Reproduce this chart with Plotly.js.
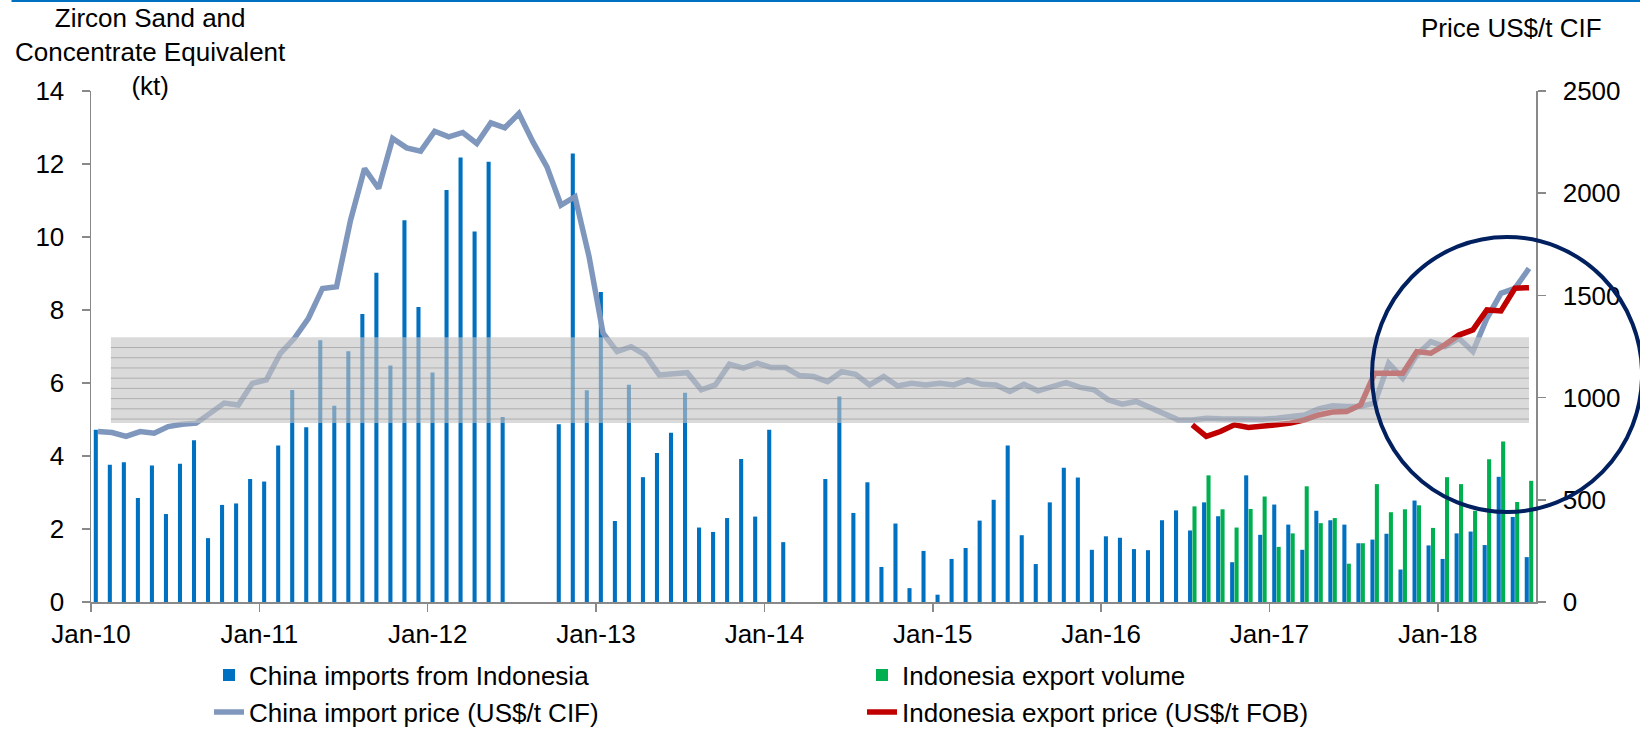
<!DOCTYPE html>
<html>
<head>
<meta charset="utf-8">
<script src="https://cdn.plot.ly/plotly-3.0.1.min.js"></script>
<style>
html,body{margin:0;padding:0;background:#fff;}
#chart{width:1640px;height:730px;}
</style>
</head>
<body>
<div id="chart"></div>
<script>
// ---- categories: monthly, Jan-10 .. Jul-18 ----
const monthNames = ['Jan','Feb','Mar','Apr','May','Jun','Jul','Aug','Sep','Oct','Nov','Dec'];
const years = ['10','11','12','13','14','15','16','17','18'];
const months = [];
years.forEach(function(y){ monthNames.forEach(function(m){ months.push(m + '-' + y); }); });
months.length = 103; // through Jul-18

// ---- tick labels ----
const yearTickLabels = ['Jan-10','Jan-11','Jan-12','Jan-13','Jan-14','Jan-15','Jan-16','Jan-17','Jan-18'];

// ---- series (kt) ----
const chinaImports = [
  4.72,3.76,3.83,2.85,3.74,2.41,3.79,4.43,1.75,2.66,2.70,3.37,
  3.30,4.29,5.81,4.79,7.17,5.38,6.87,7.89,9.02,6.48,10.46,8.08,
  6.29,11.29,12.18,10.15,12.06,5.07,null,null,null,4.87,12.29,5.80,
  8.49,2.22,5.95,3.42,4.08,4.64,5.73,2.04,1.92,2.30,3.92,2.34,
  4.72,1.64,null,null,3.37,5.63,2.44,3.28,0.96,2.15,0.38,1.40,
  0.20,1.18,1.48,2.23,2.80,4.29,1.83,1.04,2.73,3.68,3.41,1.43,
  1.80,1.76,1.45,1.42,2.24,2.51,1.96,2.73,2.35,1.09,3.47,1.84,
  2.67,2.12,1.43,2.50,2.24,2.12,1.61,1.71,1.87,0.89,2.78,1.55,
  1.18,1.88,1.93,1.56,3.43,2.33,1.23
];
const indonesiaExportVolume = [
  null,null,null,null,null,null,null,null,null,null,null,null,
  null,null,null,null,null,null,null,null,null,null,null,null,
  null,null,null,null,null,null,null,null,null,null,null,null,
  null,null,null,null,null,null,null,null,null,null,null,null,
  null,null,null,null,null,null,null,null,null,null,null,null,
  null,null,null,null,null,null,null,null,null,null,null,null,
  null,null,null,null,null,null,2.62,3.47,2.54,2.04,2.55,2.89,
  1.51,1.88,3.17,2.16,2.30,1.05,1.61,3.23,2.46,2.54,2.65,2.03,
  3.42,3.23,2.50,3.91,4.40,2.74,3.32
];
// ---- series (US$/t) ----
const chinaImportPrice = [
  834,829,810,834,826,858,870,875,924,973,964,1070,
  1087,1217,1290,1388,1534,1542,1868,2121,2023,2268,2222,2206,
  2303,2276,2297,2243,2344,2320,2390,2251,2129,1942,1983,1690,
  1315,1225,1249,1209,1111,1119,1122,1038,1062,1163,1144,1168,
  1147,1147,1108,1103,1078,1127,1114,1062,1103,1057,1070,1062,
  1070,1062,1087,1065,1062,1030,1065,1033,1054,1073,1050,1038,
  989,968,981,951,924,891,891,899,896,894,891,894,
  899,907,915,945,960,956,958,973,1168,1095,1209,1274,
  1249,1290,1225,1388,1510,1535,1632
];
const indonesiaExportPrice = [
  null,null,null,null,null,null,null,null,null,null,null,null,
  null,null,null,null,null,null,null,null,null,null,null,null,
  null,null,null,null,null,null,null,null,null,null,null,null,
  null,null,null,null,null,null,null,null,null,null,null,null,
  null,null,null,null,null,null,null,null,null,null,null,null,
  null,null,null,null,null,null,null,null,null,null,null,null,
  null,null,null,null,null,null,867,810,834,867,854,858,
  867,875,891,915,929,932,964,1119,1119,1119,1225,1217,
  1258,1306,1331,1429,1424,1535,1538
];

// month slots on a linear axis: slot i is centred at i, Jan ticks sit on the slot boundary
const xIdx = months.map(function(m, i){ return i; });
const tickPos = yearTickLabels.map(function(t){ return months.indexOf(t) - 0.5; });

const FONT = 'Arial, "Liberation Sans", sans-serif';
const AX = '#898989';

const traces = [
  {type:'bar', name:'China imports from Indonesia', x:xIdx, y:chinaImports, text:months, textposition:'none',
   marker:{color:'#0070C0'}, yaxis:'y', hoverinfo:'text+y'},
  {type:'bar', name:'Indonesia export volume', x:xIdx, y:indonesiaExportVolume, text:months, textposition:'none',
   marker:{color:'#00B050'}, yaxis:'y', hoverinfo:'text+y'},
  {type:'scatter', mode:'lines', name:'China import price (US$/t CIF)', x:xIdx, y:chinaImportPrice,
   line:{color:'#7F97BD', width:5.5}, yaxis:'y2'},
  {type:'scatter', mode:'lines', name:'Indonesia export price (US$/t FOB)', x:xIdx, y:indonesiaExportPrice,
   line:{color:'#C00000', width:5.5}, yaxis:'y2', connectgaps:false}
];

// decorative band (price range) with horizontal hatch lines
const shapes = [
  {type:'rect', xref:'x', yref:'y2', x0:0.92, x1:102.0, y0:876, y1:1295,
   fillcolor:'rgba(196,196,196,0.62)', line:{width:0}, layer:'above'}
];
for (let k = 0; k < 8; k++) {
  const yy = 895 + k * 50;
  shapes.push({type:'line', xref:'x', yref:'y2', x0:0.92, x1:102.0, y0:yy, y1:yy,
    line:{color:'rgba(140,140,140,0.55)', width:1}, layer:'above'});
}
// highlight circle
shapes.push({type:'circle', xref:'paper', yref:'paper',
  x0:0.8865, x1:1.0734, y0:0.176, y1:0.7143,
  line:{color:'#002060', width:4}, layer:'above'});
// top rule
shapes.push({type:'line', xref:'paper', yref:'paper', x0:-0.055, x1:1.08, y0:1.176, y1:1.176,
  line:{color:'#0070C0', width:2}});

const layout = {
  width:1640, height:730,
  margin:{l:91, r:104, t:91, b:128, pad:0, autoexpand:false},
  paper_bgcolor:'#fff', plot_bgcolor:'rgba(0,0,0,0)',
  font:{family:FONT, size:26, color:'#000'},
  barmode:'group', bargap:0.37, bargroupgap:0.08,
  showlegend:true,
  legend:{orientation:'h', x:(209-91)/1445, xanchor:'left', y:-0.0973, yanchor:'top',
          entrywidth:608, entrywidthmode:'pixels', font:{family:FONT, size:26, color:'#000'},
          bgcolor:'rgba(0,0,0,0)', traceorder:'normal'},
  xaxis:{type:'linear', range:[-0.5,102.5], tickmode:'array', tickvals:tickPos, ticktext:yearTickLabels,
         showline:true, linecolor:AX, linewidth:1.5, ticks:'outside', ticklen:8, tickcolor:AX, tickwidth:1.5,
         showgrid:false, zeroline:false, tickfont:{family:FONT,size:26,color:'#000'}, fixedrange:true},
  yaxis:{range:[0,14], dtick:2, tick0:0, showline:true, linecolor:AX, linewidth:1.5, ticks:'outside', ticklen:8,
         tickcolor:AX, tickwidth:1.5, showgrid:false, zeroline:false, ticklabelstandoff:12,
         tickfont:{family:FONT,size:26,color:'#000'}},
  yaxis2:{range:[0,2500], dtick:500, tick0:0, overlaying:'y', side:'right', showline:true, linecolor:AX, linewidth:1.5,
          ticks:'outside', ticklen:8, tickcolor:AX, tickwidth:1.5, showgrid:false, zeroline:false, ticklabelstandoff:12,
          tickfont:{family:FONT,size:26,color:'#000'}},
  shapes:shapes,
  annotations:[
    {xref:'paper', yref:'paper', x:(150-91)/1445, y:(602-52)/511, xanchor:'center', yanchor:'middle',
     text:'Zircon Sand and<br>Concentrate Equivalent<br>(kt)', showarrow:false, align:'center',
     font:{family:FONT,size:26,color:'#000'}},
    {xref:'paper', yref:'paper', x:(1511-91)/1445, y:(602-28)/511, xanchor:'center', yanchor:'middle',
     text:'Price US$/t CIF', showarrow:false, font:{family:FONT,size:26,color:'#000'}}
  ]
};

Plotly.newPlot('chart', traces, layout, {displayModeBar:false, staticPlot:true});
</script>
</body>
</html>
